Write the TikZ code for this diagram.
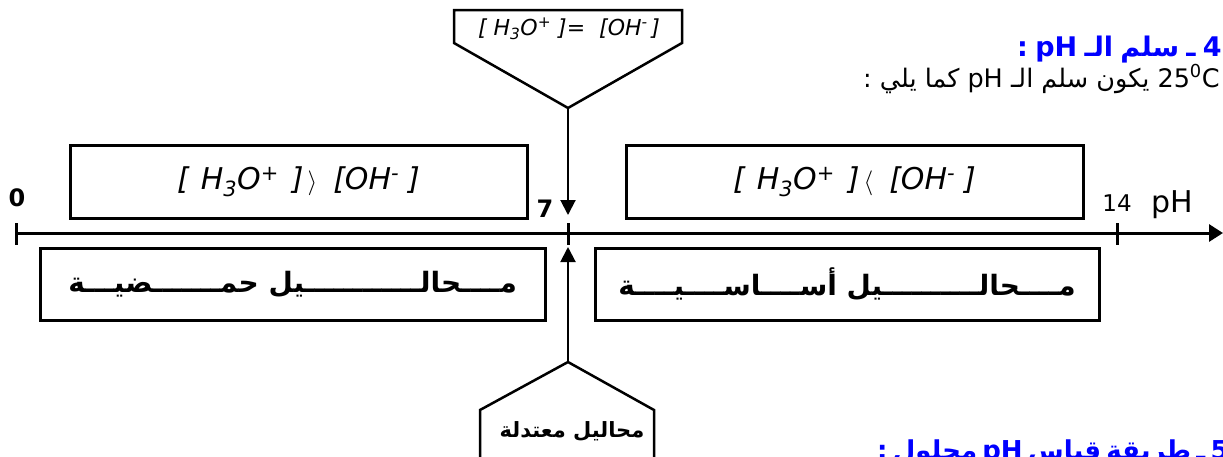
\documentclass[tikz,border=0pt]{standalone}
\usepackage{fontspec}
\setmainfont{DejaVu Sans}
\newfontfamily\arab[Script=Arabic]{DejaVu Sans}
\TeXXeTstate=1
\usetikzlibrary{arrows.meta}
\definecolor{headblue}{RGB}{0,0,255}

% a run of n tatweel characters, kept in one shaping run
\ExplSyntaxOn
\cs_new:Npn \kash #1 { \prg_replicate:nn {#1} {ـ} }
\ExplSyntaxOff
\newcommand\tightwords{\spaceskip=0.27em\relax}
\newcommand\tighterwords{\spaceskip=0.2em\relax}

\tikzset{
  frame/.style={draw, line width=3pt, inner sep=0pt},
  conc/.style={font=\fontsize{30}{32}\selectfont\itshape},
  sol/.style={font=\fontsize{28}{32}\selectfont\arab\bfseries},
  axisline/.style={line width=3pt, -{Triangle[width=17pt,length=14pt]}},
  tick/.style={line width=3pt},
  pent/.style={line width=2.5pt, line join=miter},
  pointer/.style={line width=2pt, -{Triangle[width=15pt,length=15pt]}},
  ticklabel/.style={font=\fontsize{24}{26}\selectfont\bfseries, inner sep=0pt},
  head/.style={font=\fontsize{27}{32}\selectfont\arab\bfseries\tightwords, text=headblue, inner sep=0pt},
  body/.style={font=\fontsize{25.5}{28}\selectfont\arab, inner sep=0pt}
}

\begin{document}
\begin{tikzpicture}[x=1pt,y=-1pt]
\useasboundingbox (0,0) rectangle (1223,456);
\clip (0,0) rectangle (1223,456);

% section headings
\node[head, anchor=base west] (h4) at (1017,56)
  {\beginR 4 ـ سلم الـ \beginL pH\endL{} :\endR};
\node[body, anchor=base west] (intro) at (863,87)
  {\beginR \beginL 25\textsuperscript{0}C\endL{} يكون سلم الـ \beginL pH\endL{} كما يلي :\endR};
\node[head, font=\fontsize{26}{32}\selectfont\arab\bfseries\tighterwords, anchor=base west] (h5) at (877,459)
  {\beginR 5 ـ طريقة قياس \beginL pH\endL{} محلول :\endR};

% concentration boxes above the axis
\node[frame, minimum width=457pt, minimum height=73pt, conc] (acidc) at (298.5,182)
  {[\hspace{12pt}H\textsubscript{3}O\textsuperscript{+}\hspace{13pt}]\hspace{4pt}$\rangle$\hspace{16pt}[OH\textsuperscript{-}\hspace{9pt}]};
\node[frame, minimum width=457pt, minimum height=73pt, conc] (basec) at (854.5,182)
  {[\hspace{12pt}H\textsubscript{3}O\textsuperscript{+}\hspace{13pt}]\hspace{4pt}$\langle$\hspace{16pt}[OH\textsuperscript{-}\hspace{9pt}]};

% solution boxes below the axis
\node[frame, minimum width=505pt, minimum height=72pt, sol] (acid) at (292.5,284)
  {\beginR م\kash{4}حال\kash{12}يل حم\kash{7}ضي\kash{3}ة\endR};
\node[frame, minimum width=504pt, minimum height=72pt, sol] (base) at (847,284)
  {\beginR م\kash{4}حال\kash{10}يل أس\kash{4}اس\kash{4}ي\kash{4}ة\endR};

% pH axis with ticks
\coordinate (p0) at (16,233);
\coordinate (p7) at (568,233);
\coordinate (p14) at (1117,233);
\coordinate (pend) at (1223,233);
\draw[axisline] (p0) -- (pend);
\foreach \p in {p0,p7,p14}
  \draw[tick] ([yshift=10pt]\p) -- ([yshift=-12pt]\p);

\node[ticklabel] (l0) at (17,198) {0};
\node[ticklabel] (l7) at (545,209) {7};
\node[ticklabel, font=\fontsize{23}{26}\selectfont] (l14) at (1117,203) {14};
\node[inner sep=0pt, font=\fontsize{30}{34}\selectfont] (lph) at (1172,205) {pH};

% neutral point: callout above
\draw[pent] (454,10) -- (682,10) -- (682,43) -- (568,108) -- (454,43) -- cycle;
\node[inner sep=0pt, font=\fontsize{22}{24}\selectfont\itshape] (eq) at (569,29)
  {[ H\textsubscript{3}O\textsuperscript{+} ]=\ \ [OH\textsuperscript{-}\,]};
\coordinate (topapex) at (568,108);
\coordinate (downtip) at (568,215);
\draw[pointer] (topapex) -- (downtip);

% neutral point: callout below
\draw[pent] (480,470) -- (480,410) -- (568,362) -- (654,410) -- (654,470);
\node[inner sep=0pt, font=\fontsize{21}{26}\selectfont\arab\bfseries] (neutral) at (572,431)
  {\beginR محاليل معتدلة\endR};
\coordinate (botapex) at (568,362);
\coordinate (uptip) at (568,247);
\draw[pointer] (botapex) -- (uptip);
\end{tikzpicture}
\end{document}
